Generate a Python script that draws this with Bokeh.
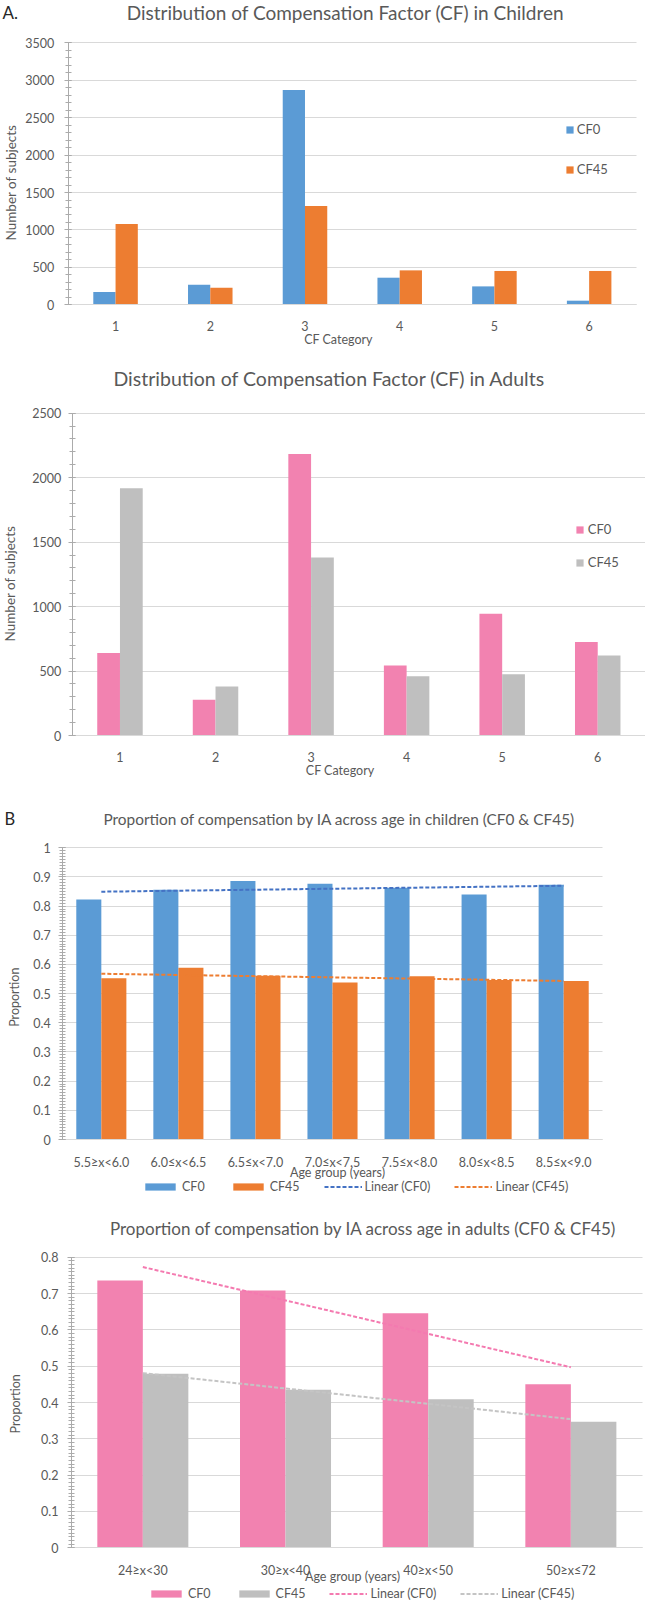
import math
import numpy as np
from bokeh.plotting import figure
from bokeh.models import (ColumnDataSource, Range1d, FixedTicker, Label, Legend, LegendItem)
from bokeh.transform import dodge
from bokeh.layouts import column
from bokeh.embed import file_html
from bokeh.resources import INLINE

# ---------------- data ----------------
cf_categories = ["1", "2", "3", "4", "5", "6"]
children_cf0 = [170, 268, 2870, 362, 246, 55]
children_cf45 = [1080, 228, 1320, 460, 452, 452]
adults_cf0 = [640, 277, 2183, 543, 944, 725]
adults_cf45 = [1918, 381, 1380, 460, 476, 621]

child_age_groups = ["5.5≥x<6.0", "6.0≤x<6.5", "6.5≤x<7.0", "7.0≤x<7.5",
                    "7.5≤x<8.0", "8.0≤x<8.5", "8.5≤x<9.0"]
child_prop_cf0 = [0.823, 0.856, 0.886, 0.877, 0.863, 0.840, 0.873]
child_prop_cf45 = [0.553, 0.589, 0.561, 0.538, 0.560, 0.547, 0.543]

adult_age_groups = ["24≥x<30", "30≥x<40", "40≥x<50", "50≥x≤72"]
adult_prop_cf0 = [0.736, 0.708, 0.646, 0.450]
adult_prop_cf45 = [0.479, 0.435, 0.409, 0.347]

count_ticks_children = [0, 500, 1000, 1500, 2000, 2500, 3000, 3500]
count_labels_children = ["0", "500", "1000", "1500", "2000", "2500", "3000", "3500"]
count_ticks_adults = [0, 500, 1000, 1500, 2000, 2500]
count_labels_adults = ["0", "500", "1000", "1500", "2000", "2500"]
prop_ticks_children = [0, 0.1, 0.2, 0.3, 0.4, 0.5, 0.6, 0.7, 0.8, 0.9, 1]
prop_labels_children = ["0", "0.1", "0.2", "0.3", "0.4", "0.5", "0.6", "0.7", "0.8", "0.9", "1"]
prop_ticks_adults = [0, 0.1, 0.2, 0.3, 0.4, 0.5, 0.6, 0.7, 0.8]
prop_labels_adults = ["0", "0.1", "0.2", "0.3", "0.4", "0.5", "0.6", "0.7", "0.8"]

# ---------------- style ----------------
FONT = "Lato"
TXT = "#595959"
DARK = "#262626"
GRID = "#D9D9D9"
AXIS = "#ABABAB"
BLUE = "#5B9BD5"
ORANGE = "#ED7D31"
PINK = "#F282B0"
GRAY = "#BFBFBF"
TREND_BLUE = "#4472C4"
TREND_ORANGE = "#ED7D31"
TREND_PINK = "#F47AB0"
TREND_GRAY = "#C4C4C4"
W = 645
MID_SHIFT = 3  # "middle" baseline renders slightly below the anchor


def put(p, text, x, y, size, align="center", angle=0.0, color=TXT, baseline="middle"):
    H = p.height
    if angle:
        x = x - MID_SHIFT
    else:
        y = y - MID_SHIFT
    p.add_layout(Label(x=x, y=H - y, x_units="screen", y_units="screen", text=text,
                       text_align=align, text_baseline=baseline, angle=angle,
                       text_font=FONT, text_font_size=f"{size}px", text_color=color))


def build(H, L, R, T, B, cats, v0, v1, c0, c1, ymax, ticks, tick_labels, minor_step,
          bar_w, ylab_standoff, xlab_standoff, tick_size, trend=None):
    n = len(cats)
    cw = (R - L) / n
    xs = 0.5 - L / cw
    xe = 0.5 + (W - L) / cw
    ys = (B - H) / (B - T) * ymax
    ye = B / (B - T) * ymax
    p = figure(width=W, height=H, x_range=Range1d(xs, xe), y_range=Range1d(ys, ye),
               output_backend="svg", toolbar_location=None,
               min_border_left=0, min_border_right=0, min_border_top=0, min_border_bottom=0)
    p.outline_line_color = None
    p.background_fill_color = "white"
    p.border_fill_color = "white"

    idx = list(range(1, n + 1))
    n_minor = int(round(ymax / minor_step))
    minor = [round(i * minor_step, 4) for i in range(n_minor + 1)]
    yticker = FixedTicker(ticks=ticks, minor_ticks=minor)
    yax = p.yaxis[0]
    yax.ticker = yticker
    yax.fixed_location = 0.5
    yax.bounds = (0, ymax)
    yax.major_label_overrides = {t: s for t, s in zip(ticks, tick_labels)}
    yax.axis_line_color = AXIS
    yax.major_tick_line_color = AXIS
    yax.minor_tick_line_color = AXIS
    yax.major_tick_out = 4
    yax.major_tick_in = 3
    yax.minor_tick_out = 3
    yax.minor_tick_in = 3
    yax.major_label_standoff = ylab_standoff
    yax.major_label_text_font = FONT
    yax.major_label_text_font_size = f"{tick_size}px"
    yax.major_label_text_color = TXT

    xax = p.xaxis[0]
    xax.ticker = FixedTicker(ticks=idx, minor_ticks=[])
    xax.fixed_location = 0
    xax.bounds = (0.5, n + 0.5)
    xax.major_label_overrides = {i: c for i, c in zip(idx, cats)}
    xax.axis_line_color = GRID
    xax.major_tick_line_color = None
    xax.minor_tick_line_color = None
    xax.major_label_standoff = xlab_standoff
    xax.major_label_text_font = FONT
    xax.major_label_text_font_size = f"{tick_size}px"
    xax.major_label_text_color = TXT

    p.xgrid.visible = False
    p.ygrid.ticker = yticker
    p.ygrid.grid_line_color = GRID
    try:
        p.ygrid.cross_bounds = (0.5, n + 0.5)
    except Exception:
        p.ygrid.visible = False
        p.segment(x0=[0.5] * len(ticks), x1=[n + 0.5] * len(ticks), y0=ticks, y1=ticks,
                  line_color=GRID, line_width=1)

    src = ColumnDataSource(dict(x=idx, cat=cats, v0=v0, v1=v1))
    r0 = p.vbar(x=dodge("x", -bar_w / 2), top="v0", width=bar_w,
                source=src, fill_color=c0, line_color=None)
    r1 = p.vbar(x=dodge("x", bar_w / 2), top="v1", width=bar_w,
                source=src, fill_color=c1, line_color=None)
    lines = []
    if trend is not None:
        xi = np.array(idx, dtype=float)
        for vals, col in zip((v0, v1), trend):
            coef = np.polyfit(xi, np.array(vals, dtype=float), 1)
            fit = np.polyval(coef, xi)
            lines.append(p.line(x=idx, y=list(fit), line_color=col, line_width=2,
                                line_dash="4 2"))
    return p, r0, r1, lines


def legend(p, items, x_left, y_bottom, orientation, gw, gh, standoff, spacing, size):
    leg = Legend(items=[LegendItem(label=l, renderers=[r]) for l, r in items],
                 location=(x_left, max(0, p.height - y_bottom)), orientation=orientation,
                 glyph_width=int(gw), glyph_height=int(gh), label_standoff=int(standoff),
                 spacing=int(round(spacing)), padding=0, margin=0,
                 border_line_color=None, background_fill_alpha=0,
                 label_text_font=FONT, label_text_font_size=f"{size}px",
                 label_text_color=TXT, label_height=16)
    p.add_layout(leg)


# ---------------- chart 1 (page y 0..360) ----------------
p1, a0, a1, _ = build(360, 67.7, 636, 42.3, 304.3, cf_categories, children_cf0, children_cf45,
                      BLUE, ORANGE, 3500, count_ticks_children, count_labels_children, 100,
                      0.235, 10, 10, 12.5)
put(p1, "A.", 2, 15, 17, align="left", color=DARK)
put(p1, "Distribution of Compensation Factor (CF) in Children", 345, 15, 19)
put(p1, "Number of subjects", 13, 182, 13.5, angle=math.pi / 2)
put(p1, "CF Category", 338, 342, 12.5)
legend(p1, [("CF0", a0), ("CF45", a1)], 564.8, 177, "vertical", 9, 9, 3, 24, 13)

# ---------------- chart 2 (page y 360..795) ----------------
p2, b0, b1, _ = build(435, 71.7, 645, 52.7, 375, cf_categories, adults_cf0, adults_cf45,
                      PINK, GRAY, 2500, count_ticks_adults, count_labels_adults, 100,
                      0.238, 7, 10, 12.5)
put(p2, "Distribution of Compensation Factor (CF) in Adults", 329, 21.2, 19.5)
put(p2, "Number of subjects", 12.3, 223, 13.5, angle=math.pi / 2)
put(p2, "CF Category", 339.6, 412.7, 12.5)
legend(p2, [("CF0", b0), ("CF45", b1)], 574.8, 210.3, "vertical", 9, 9, 4, 17, 13)

# ---------------- chart 3 (page y 795..1196) ----------------
p3, c0, c1, cl = build(401, 62.3, 601.7, 52.3, 344, child_age_groups, child_prop_cf0,
                       child_prop_cf45, BLUE, ORANGE, 1, prop_ticks_children,
                       prop_labels_children, 0.01, 0.325, 8, 9, 12.5,
                       trend=(TREND_BLUE, TREND_ORANGE))
put(p3, "B", 4, 26.7, 16.5, align="left", color=DARK)
put(p3, "Proportion of compensation by IA across age in children (CF0 & CF45)", 338.9, 26.7, 15.4)
put(p3, "Proportion", 16.7, 201.7, 12.5, angle=math.pi / 2)
put(p3, "Age group (years)", 337, 379.5, 12.5)
legend(p3, [("CF0", c0), ("CF45", c1), ("Linear (CF0)", cl[0]), ("Linear (CF45)", cl[1])],
       141, 399.7, "horizontal", 38, 9, 3, 24, 12.5)

# ---------------- chart 4 (page y 1196..1601) ----------------
p4, d0, d1, dl = build(405, 71, 641.7, 60.7, 351.3, adult_age_groups, adult_prop_cf0,
                       adult_prop_cf45, PINK, GRAY, 0.8, prop_ticks_adults,
                       prop_labels_adults, 0.01, 0.319, 9, 9, 12.5,
                       trend=(TREND_PINK, TREND_GRAY))
put(p4, "Proportion of compensation by IA across age in adults (CF0 & CF45)", 362.8, 34.7, 17)
put(p4, "Proportion", 18.3, 207.3, 12.5, angle=math.pi / 2)
put(p4, "Age group (years)", 352, 382.7, 12.5)
legend(p4, [("CF0", d0), ("CF45", d1), ("Linear (CF0)", dl[0]), ("Linear (CF45)", dl[1])],
       146.9, 405, "horizontal", 38, 9, 3, 24, 12.5)

page = column(p1, p2, p3, p4, spacing=0)
open("out.html", "w").write(file_html(page, INLINE))
